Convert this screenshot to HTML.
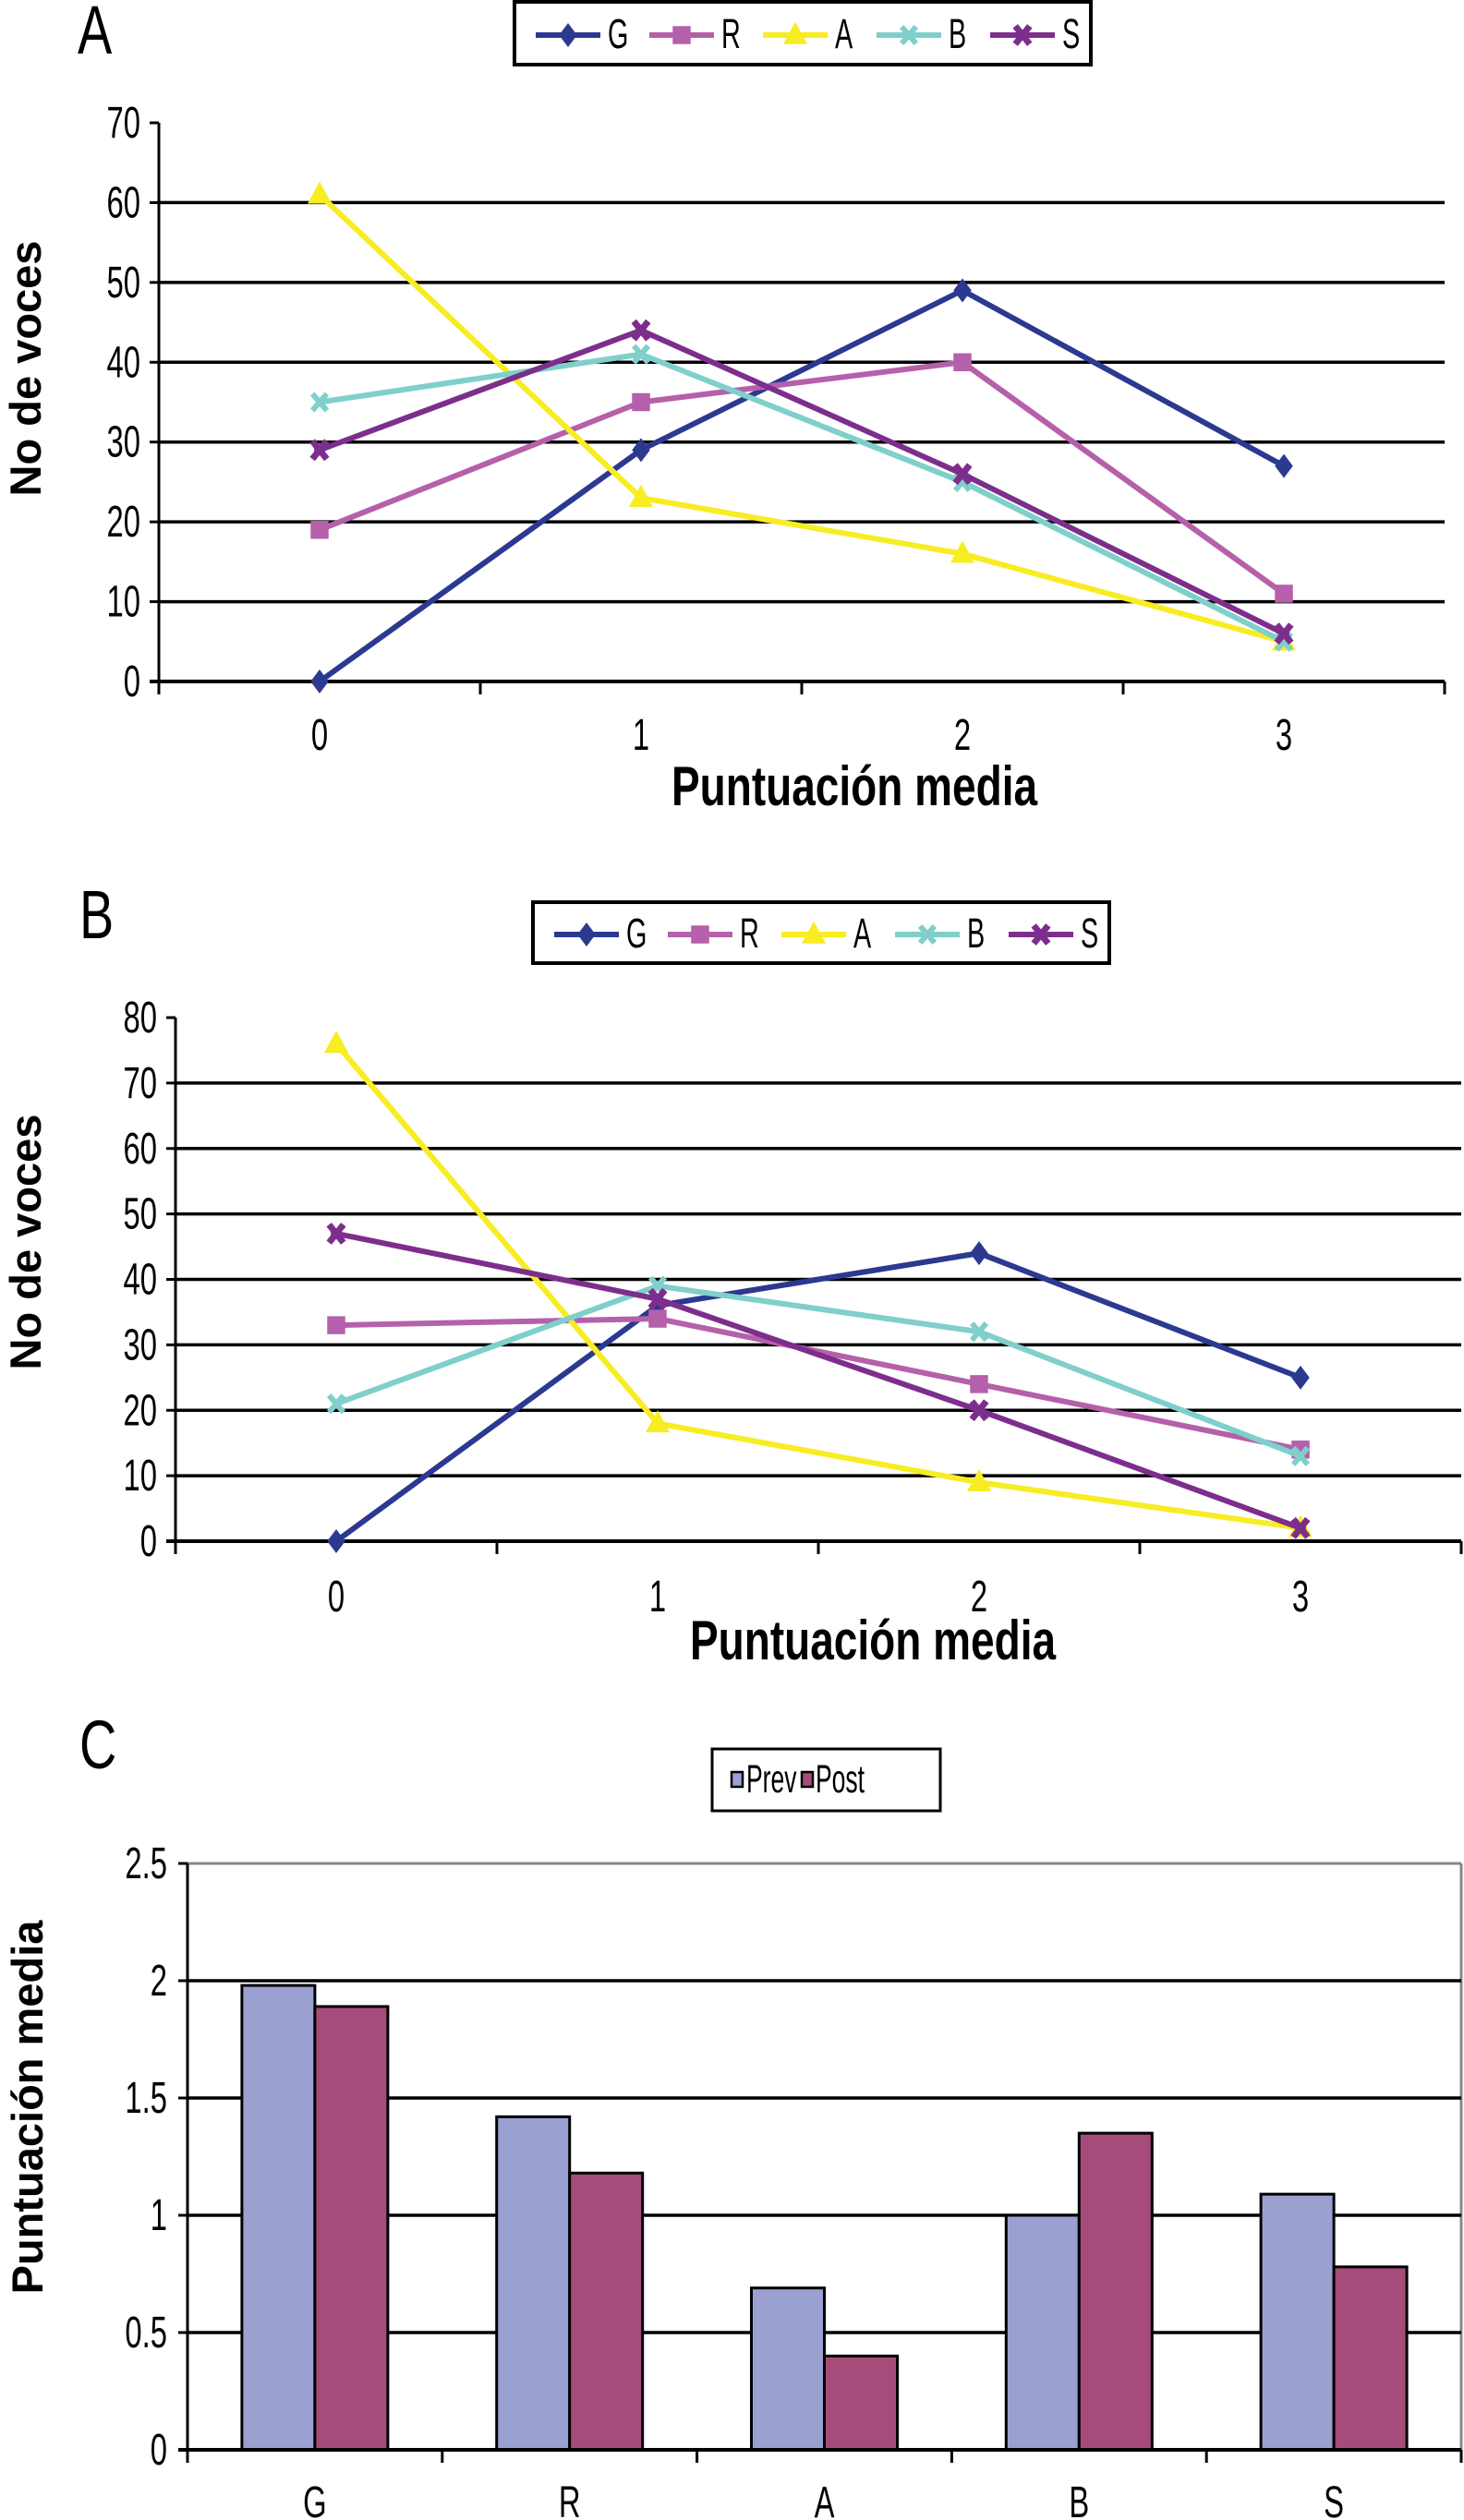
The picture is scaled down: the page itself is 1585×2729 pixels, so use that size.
<!DOCTYPE html>
<html><head><meta charset="utf-8"><style>
html,body{margin:0;padding:0;background:#fff}
svg{display:block}
text{font-family:"Liberation Sans",sans-serif}
.b{font-family:"Liberation Sans",sans-serif;font-weight:bold}
</style></head><body>
<svg id="s" width="1585" height="2729" viewBox="0 0 1585 2729" xmlns="http://www.w3.org/2000/svg"></svg>
<script>
const seriesNames = ["G","R","A","B","S"];
const seriesColors = ["#2b3990","#b560aa","#f8ec22","#7fcfcb","#7d2e8c"];
const xCatsLine = ["0","1","2","3"];
const aG = [0,29,49,27], aR = [19,35,40,11], aA = [61,23,16,5], aB = [35,41,25,5], aS = [29,44,26,6];
const aTicks = [0,10,20,30,40,50,60,70];
const bG = [0,36,44,25], bR = [33,34,24,14], bA = [76,18,9,2], bB = [21,39,32,13], bS = [47,37,20,2];
const bTicks = [0,10,20,30,40,50,60,70,80];
const cCats = ["G","R","A","B","S"];
const cPrev = [1.98,1.42,0.69,1.00,1.09];
const cPost = [1.89,1.18,0.40,1.35,0.78];
const cTicks = ["0","0.5","1","1.5","2","2.5"];
const cTickVals = [0,0.5,1,1.5,2,2.5];

const NS="http://www.w3.org/2000/svg";
const svg=document.getElementById('s');
function el(tag,attrs,parent,txt){const e=document.createElementNS(NS,tag);for(const k in attrs)e.setAttribute(k,attrs[k]);if(txt!==undefined)e.textContent=txt;(parent||svg).appendChild(e);return e;}
function ctext(parent,x,y,size,str,anchor,sx,sy,cls){
  const a={x:0,y:0,'font-size':size,'text-anchor':anchor||'start',transform:`translate(${x},${y}) scale(${sx||0.82},${sy||1.2})`};
  if(cls)a['class']=cls;
  return el('text',a,parent,str);
}

function marker(g,i,x,y,s){
  const c=seriesColors[i];let m;
  if(i===0){m=el('polygon',{points:`${x},${y-s} ${x+s*0.75},${y} ${x},${y+s} ${x-s*0.75},${y}`,fill:c},g);}
  else if(i===1){m=el('rect',{x:x-s*0.75,y:y-s*0.75,width:s*1.5,height:s*1.5,fill:c},g);}
  else if(i===2){m=el('polygon',{points:`${x},${y-s*1.1} ${x+s},${y+s*0.75} ${x-s},${y+s*0.75}`,fill:c},g);}
  else if(i===3){m=el('path',{d:`M${x-s*0.6},${y-s*0.7}L${x+s*0.6},${y+s*0.7}M${x+s*0.6},${y-s*0.7}L${x-s*0.6},${y+s*0.7}`,stroke:c,'stroke-width':6,fill:'none'},g);}
  else {m=el('g',{},g);
    el('path',{d:`M${x-s*0.6},${y-s*0.75}L${x+s*0.6},${y+s*0.75}M${x+s*0.6},${y-s*0.75}L${x-s*0.6},${y+s*0.75}`,stroke:c,'stroke-width':7,fill:'none'},m);
    el('rect',{x:x-s*0.45,y:y-s*0.45,width:s*0.9,height:s*0.9,fill:c},m);}
  return m;
}

function legendLine(lx0,ly,w,h,step,font){
  const g=el('g',{});
  
  
  el('rect',{x:lx0,y:ly,width:w,height:h,fill:'#fff',stroke:'#000','stroke-width':4},g);
  const cy=ly+h/2+2;
  seriesNames.forEach((n,i)=>{
    const e=el('g',{},g);
    
    
    const x0=lx0+23+i*step;
    el('line',{x1:x0,y1:cy,x2:x0+70,y2:cy,stroke:seriesColors[i],'stroke-width':6},e);
    marker(e,i,x0+35,cy,13);
    ctext(e,x0+78,cy+14,font,n,'start',0.8,1.25);
  });
}

function lineChart(o){
  const g=el('g',{});
  
  
  const yS=v=>o.y0-(v/o.max)*(o.y0-o.yTop);
  const xS=i=>o.x0+(i+0.5)*o.cw;
  const xEnd=o.x0+4*o.cw;
  o.ticks.forEach(t=>{
    const y=yS(t);
    if(t>0&&t<o.max){const gl=el('line',{x1:o.x0,y1:y,x2:xEnd,y2:y,stroke:'#000','stroke-width':3.5},g);
      }
    el('line',{x1:o.x0-10,y1:y,x2:o.x0,y2:y,stroke:'#000','stroke-width':3},g);
    const tl=ctext(g,o.x0-20,y+16,40,String(t),'end');
    
  });
  const ya=el('line',{x1:o.x0,y1:o.yTop,x2:o.x0,y2:o.y0+2,stroke:'#000','stroke-width':3},g);
  
  const xa=el('line',{x1:o.x0-10,y1:o.y0,x2:xEnd,y2:o.y0,stroke:'#000','stroke-width':4},g);
  
  for(let i=0;i<=4;i++)el('line',{x1:o.x0+i*o.cw,y1:o.y0,x2:o.x0+i*o.cw,y2:o.y0+14,stroke:'#000','stroke-width':3},g);
  xCatsLine.forEach((c,i)=>{const t=ctext(g,xS(i),o.labY+17,40,c,'middle');
    });
  o.data.forEach((arr,si)=>{
    const pts=arr.map((v,i)=>xS(i)+','+yS(v)).join(' ');
    const pl=el('polyline',{points:pts,fill:'none',stroke:seriesColors[si],'stroke-width':6},g);
    
    
    arr.forEach((v,i)=>{const m=marker(g,si,xS(i),yS(v),13);
      
      });
  });
  const xt=ctext(g,o.xtX,o.xtY+20,50,'Puntuación media','middle',0.92,1.2,'b');
  
  const yt=el('text',{x:0,y:0,'font-size':47,'text-anchor':'middle',class:'b',transform:`translate(${o.ytX},${o.ytY}) rotate(-90)`},g,'No de voces');
  
}

// Panel A
const lbA=ctext(svg,84,58,62,'A','start',0.9,1.2);


legendLine(557,2,624,68,123,36);
lineChart({name:'chart-a',x0:172,y0:738,yTop:133,max:70,cw:348,ticks:aTicks,data:[aG,aR,aA,aB,aS],labY:795,xtX:925,xtY:852,ytX:44,ytY:399});

// Panel B
const lbB=ctext(svg,86,1016,62,'B','start',0.9,1.2);


legendLine(577,977,624,66,123,36);
lineChart({name:'chart-b',x0:190,y0:1669,yTop:1102,max:80,cw:348,ticks:bTicks,data:[bG,bR,bA,bB,bS],labY:1728,xtX:945,xtY:1777,ytX:44,ytY:1345});

// Panel C
const lbC=ctext(svg,86,1915,62,'C','start',0.9,1.2);


(function(){
  const g=el('g',{});
  
  
  const x0=203,y0=2653,yTop=2018,max=2.5,cw=275.8,bw=79;
  const yS=v=>y0-(v/max)*(y0-yTop);
  const xEnd=x0+5*cw;
  const lg=el('g',{},g);
  
  
  el('rect',{x:771,y:1894,width:247,height:67,fill:'#fff',stroke:'#000','stroke-width':3},lg);
  el('rect',{x:792,y:1919,width:12,height:16,fill:'#9aa0d0',stroke:'#000','stroke-width':2.5},lg);
  ctext(lg,808,1941,34,'Prev','start',0.78,1.25);
  el('rect',{x:868,y:1919,width:12,height:16,fill:'#a54c7b',stroke:'#000','stroke-width':2.5},lg);
  ctext(lg,883,1941,34,'Post','start',0.78,1.25);
  el('line',{x1:x0,y1:yTop,x2:xEnd,y2:yTop,stroke:'#888','stroke-width':3},g);
  el('line',{x1:xEnd,y1:yTop,x2:xEnd,y2:y0,stroke:'#888','stroke-width':3},g);
  cTickVals.forEach((v,i)=>{
    const y=yS(v);
    if(v>0&&v<max){const gl=el('line',{x1:x0,y1:y,x2:xEnd,y2:y,stroke:'#000','stroke-width':3.5},g);
      }
    el('line',{x1:x0-10,y1:y,x2:x0,y2:y,stroke:'#000','stroke-width':3},g);
    const t=ctext(g,x0-22,y+16,40,cTicks[i],'end');
    
  });
  cCats.forEach((c,i)=>{
    const cx=x0+(i+0.5)*cw;
    const b1=el('rect',{x:cx-bw,y:yS(cPrev[i]),width:bw,height:y0-yS(cPrev[i]),fill:'#9aa0d0',stroke:'#000','stroke-width':3},g);
    
    
    const b2=el('rect',{x:cx,y:yS(cPost[i]),width:bw,height:y0-yS(cPost[i]),fill:'#a54c7b',stroke:'#000','stroke-width':3},g);
    
    
    const t=ctext(g,cx,2726,40,c,'middle');
    
  });
  el('line',{x1:x0,y1:yTop,x2:x0,y2:y0,stroke:'#000','stroke-width':3},g);
  el('line',{x1:x0-10,y1:y0,x2:xEnd,y2:y0,stroke:'#000','stroke-width':4},g);
  for(let i=0;i<=5;i++)el('line',{x1:x0+i*cw,y1:y0,x2:x0+i*cw,y2:y0+14,stroke:'#000','stroke-width':3},g);
  const yt=el('text',{x:0,y:0,'font-size':47,'text-anchor':'middle',class:'b',transform:'translate(46,2282) rotate(-90)'},g,'Puntuación media');
  
})();
</script>
</body></html>
